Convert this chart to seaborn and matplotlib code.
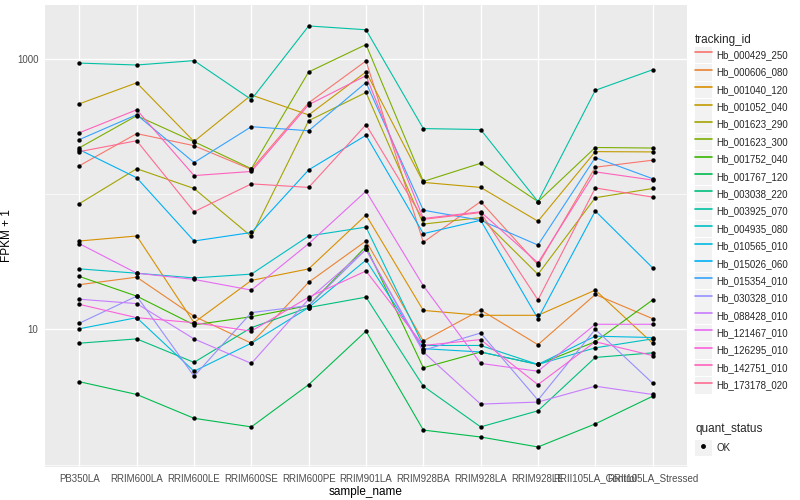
import pandas as pd
import matplotlib
matplotlib.use("Agg")
import matplotlib.pyplot as plt
import seaborn as sns
from matplotlib.lines import Line2D
from matplotlib.patches import Patch
from matplotlib.legend_handler import HandlerTuple
from matplotlib.ticker import FixedLocator, NullFormatter

# sample order on the x axis
samples = ["PB350LA", "RRIM600LA", "RRIM600LE", "RRIM600SE", "RRIM600PE", "RRIM901LA",
           "RRIM928BA", "RRIM928LA", "RRIM928LE", "RRII105LA_Control", "RRII105LA_Stressed"]

# FPKM + 1 per gene, one value per sample
hb_000429_250 = [162, 280, 228, 152, 473, 965, 44, 88, 30, 158, 178]
hb_000606_080 = [21.4, 24.3, 12.5, 7.9, 22.3, 45, 8.2, 13.9, 7.7, 18.1, 12]
hb_001040_120 = [45, 49, 11.2, 23, 28, 70, 13.8, 12.7, 12.7, 19.5, 7.9]
hb_001052_040 = [465, 665, 245, 540, 385, 800, 122, 112, 63, 206, 205]
hb_001623_290 = [85, 154, 110, 48.6, 349, 564, 60, 67, 25.5, 94, 110]
hb_001623_300 = [220, 380, 244, 154, 800, 1275, 124, 169, 88, 221, 219]
hb_001752_040 = [24.6, 17.6, 10.8, 12.4, 15, 41, 5.2, 6.8, 5.5, 8.1, 16.5]
hb_001767_120 = [4.1, 3.3, 2.2, 1.9, 3.9, 9.7, 1.8, 1.6, 1.35, 2.0, 3.2]
hb_003038_220 = [7.9, 8.5, 5.7, 10.3, 14.5, 17.3, 3.8, 1.9, 2.5, 6.2, 6.7]
hb_003925_070 = [930, 900, 970, 500, 1750, 1640, 305, 300, 88, 585, 830]
hb_004935_080 = [28, 26, 24, 25.6, 49, 57, 7.6, 7.6, 5.5, 7.3, 8.5]
hb_010565_010 = [10.1, 12.2, 4.9, 7.9, 14.5, 32.5, 7.2, 6.8, 5.5, 8.9, 8.7]
hb_015026_060 = [213, 132, 45, 52, 151, 272, 51, 64, 12, 75, 28.5]
hb_015354_010 = [253, 386, 171, 315, 294, 668, 76, 64, 42, 186, 130]
hb_030328_010 = [11.1, 17.6, 4.5, 13.3, 15, 39, 7, 9.4, 3.0, 10, 4.0]
hb_088428_010 = [16.7, 15.5, 8.5, 5.6, 16.7, 39, 6.8, 2.8, 2.9, 3.8, 3.3]
hb_121467_010 = [43, 26, 23.4, 19.5, 43, 105, 21, 5.6, 4.9, 10.9, 10.9]
hb_126295_010 = [15.3, 12.2, 11.2, 9.7, 17.3, 27, 7.6, 8.4, 3.9, 8.1, 6.4]
hb_142751_010 = [284, 420, 137, 147, 458, 750, 66, 74, 31, 146, 127]
hb_173178_020 = [206, 248, 74, 119, 112, 326, 65, 73, 16.5, 111, 95]

genes = {
    "Hb_000429_250": hb_000429_250, "Hb_000606_080": hb_000606_080,
    "Hb_001040_120": hb_001040_120, "Hb_001052_040": hb_001052_040,
    "Hb_001623_290": hb_001623_290, "Hb_001623_300": hb_001623_300,
    "Hb_001752_040": hb_001752_040, "Hb_001767_120": hb_001767_120,
    "Hb_003038_220": hb_003038_220, "Hb_003925_070": hb_003925_070,
    "Hb_004935_080": hb_004935_080, "Hb_010565_010": hb_010565_010,
    "Hb_015026_060": hb_015026_060, "Hb_015354_010": hb_015354_010,
    "Hb_030328_010": hb_030328_010, "Hb_088428_010": hb_088428_010,
    "Hb_121467_010": hb_121467_010, "Hb_126295_010": hb_126295_010,
    "Hb_142751_010": hb_142751_010, "Hb_173178_020": hb_173178_020,
}

# ggplot default hue palette for 20 levels
palette = ["#F8766D", "#EA8331", "#D89000", "#C09B00", "#A3A500", "#7CAE00", "#39B600",
           "#00BB4E", "#00BF7D", "#00C1A3", "#00BFC4", "#00BAE0", "#00B0F6", "#35A2FF",
           "#9590FF", "#C77CFF", "#E76BF3", "#FA62DB", "#FF62BC", "#FF6C91"]

rows = []
for gid, vals in genes.items():
    for s, v in zip(samples, vals):
        rows.append({"tracking_id": gid, "sample_name": s, "fpkm": v})
df = pd.DataFrame(rows)

sns.set_theme(style="darkgrid")
plt.rcParams["font.family"] = ["Liberation Sans", "DejaVu Sans"]

fig = plt.figure(figsize=(8, 5), dpi=100)
ax = fig.add_axes([0.05625, 0.066, 0.8025, 0.924])
ax.set_facecolor("#EBEBEB")

sns.lineplot(data=df, x="sample_name", y="fpkm", hue="tracking_id", palette=palette,
             linewidth=0.8, legend=False, sort=False, estimator=None, ax=ax)
sns.scatterplot(data=df, x="sample_name", y="fpkm", color="black", s=10,
                linewidth=0, legend=False, ax=ax, zorder=3)

ax.set_yscale("log")
ax.set_ylim(0.96, 2500)
ax.set_xlim(-0.6, 10.6)
ax.yaxis.set_major_locator(FixedLocator([10, 1000]))
ax.set_yticklabels(["10", "1000"])
ax.yaxis.set_minor_locator(FixedLocator([1, 100]))
ax.yaxis.set_minor_formatter(NullFormatter())

ax.grid(which="major", color="white", linewidth=1.0)
ax.grid(which="minor", axis="y", color="white", linewidth=0.5)
ax.set_axisbelow(True)
for sp in ax.spines.values():
    sp.set_visible(False)

ax.tick_params(which="major", length=2.7, width=0.6, color="#333333",
               labelsize=7, labelcolor="#4D4D4D", pad=2)
ax.tick_params(which="minor", length=0)
ax.set_xlabel("sample_name", fontsize=8.5, color="black", labelpad=2)
ax.set_ylabel("FPKM + 1", fontsize=8.5, color="black", labelpad=3)

# legends in ggplot style (grey key boxes)
hmap = {tuple: HandlerTuple(ndivide=1, pad=0)}
handles = [(Patch(facecolor="#F2F2F2", edgecolor="none"), Line2D([], [], color=c, linewidth=1.2))
           for c in palette]
leg1 = fig.legend(handles, list(genes.keys()), title="tracking_id", loc="upper left",
                  bbox_to_anchor=(0.869, 0.932), frameon=False, fontsize=7, title_fontsize=8.5,
                  handler_map=hmap, handlelength=1.7, handleheight=2.25, labelspacing=0.08,
                  handletextpad=0.45, borderpad=0, borderaxespad=0, alignment="left")

ok_handle = [(Patch(facecolor="#F2F2F2", edgecolor="none"),
              Line2D([], [], marker="o", color="black", linestyle="none", markersize=2.5))]
leg2 = fig.legend(ok_handle, ["OK"], title="quant_status", loc="upper left",
                  bbox_to_anchor=(0.869, 0.154), frameon=False, fontsize=7, title_fontsize=8.5,
                  handler_map=hmap, handlelength=1.7, handleheight=2.25,
                  handletextpad=0.45, borderpad=0, borderaxespad=0, alignment="left")

fig.savefig("out.png", dpi=100)
